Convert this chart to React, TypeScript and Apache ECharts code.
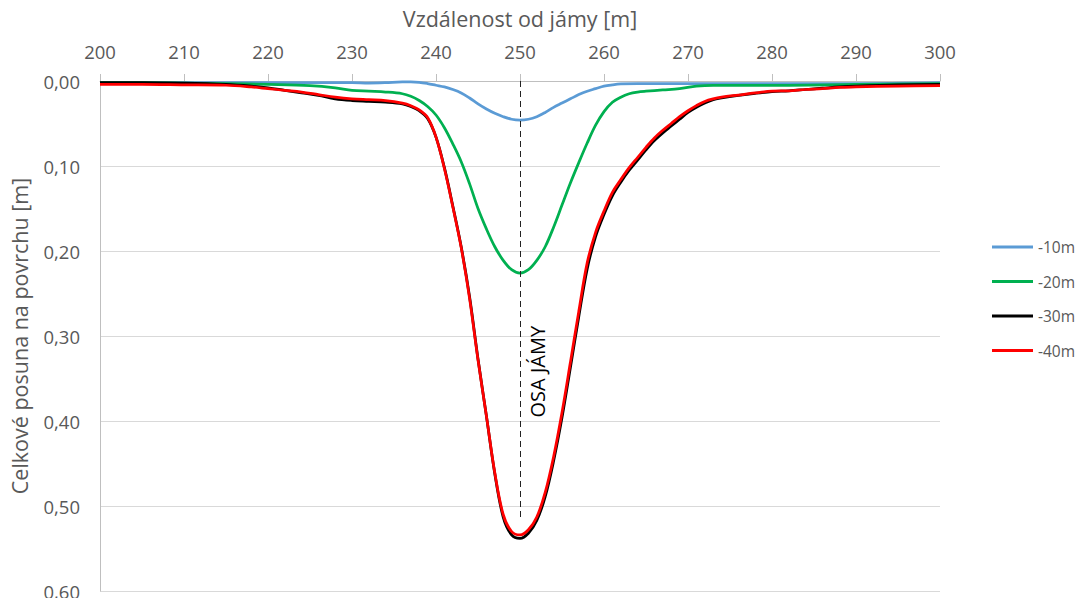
import React, { useEffect, useRef } from "react";
import * as echarts from "echarts";

const xTicks = { min: 200, max: 300, interval: 10 };
const yTicks = { min: 0, max: 0.6, interval: 0.1 };

const seriesNames = ["-10m", "-20m", "-30m", "-40m"];
const seriesColors = ["#5b9bd5", "#00b050", "#000000", "#ff0000"];

const x10 = [200, 210, 220, 225, 230, 232, 234, 236, 237, 238, 239, 240, 241, 242, 243, 244, 245, 246, 247, 248, 249, 250, 251, 252, 253, 254, 255, 256, 257, 258, 259, 260, 261, 262, 264, 266, 270, 275, 280, 290, 300];
const y10 = [0.002, 0.002, 0.002, 0.002, 0.002, 0.0025, 0.002, 0.001, 0.001, 0.0015, 0.003, 0.005, 0.007, 0.010, 0.014, 0.020, 0.027, 0.033, 0.038, 0.042, 0.045, 0.046, 0.045, 0.042, 0.037, 0.031, 0.026, 0.021, 0.016, 0.012, 0.009, 0.006, 0.0045, 0.0035, 0.003, 0.003, 0.003, 0.003, 0.003, 0.003, 0.002];

const x20 = [200, 205, 210, 215, 220, 225, 228, 230, 232, 234, 236, 237, 238, 239, 240, 241, 242, 243, 244, 245, 246, 247, 248, 249, 250, 251, 252, 253, 254, 255, 256, 257, 258, 259, 260, 261, 262, 263, 264, 265, 267, 269, 271, 273, 280, 290, 300];
const y20 = [0.002, 0.002, 0.0025, 0.003, 0.004, 0.0055, 0.008, 0.011, 0.012, 0.013, 0.015, 0.018, 0.023, 0.030, 0.040, 0.055, 0.074, 0.095, 0.121, 0.150, 0.174, 0.195, 0.211, 0.222, 0.226, 0.222, 0.211, 0.195, 0.172, 0.146, 0.120, 0.096, 0.073, 0.052, 0.036, 0.025, 0.019, 0.015, 0.013, 0.012, 0.0105, 0.009, 0.006, 0.005, 0.005, 0.004, 0.003];

const x30 = [200, 205, 210, 215, 218, 220, 222, 224, 226, 228, 230, 232, 234, 236, 237, 238, 239, 240, 241, 242, 243, 244, 245, 246, 247, 248, 249, 250, 251, 252, 253, 254, 255, 256, 257, 258, 259, 260, 261, 262, 263, 264, 265, 266, 267, 268, 269, 270, 271, 272, 273, 274, 276, 278, 280, 282, 284, 286, 288, 290, 295, 300];
const y30 = [0.002, 0.002, 0.0025, 0.004, 0.006, 0.008, 0.011, 0.014, 0.017, 0.021, 0.023, 0.024, 0.025, 0.027, 0.030, 0.035, 0.044, 0.066, 0.102, 0.147, 0.195, 0.254, 0.327, 0.394, 0.462, 0.513, 0.534, 0.538, 0.532, 0.517, 0.489, 0.447, 0.396, 0.337, 0.277, 0.221, 0.183, 0.157, 0.135, 0.119, 0.105, 0.093, 0.081, 0.070, 0.061, 0.053, 0.045, 0.037, 0.031, 0.026, 0.022, 0.020, 0.017, 0.0145, 0.0125, 0.0115, 0.010, 0.0085, 0.007, 0.006, 0.0045, 0.004];

const x40 = [200, 205, 210, 215, 218, 220, 222, 224, 226, 228, 230, 232, 234, 236, 237, 238, 239, 240, 241, 242, 243, 244, 245, 246, 247, 248, 249, 250, 251, 252, 253, 254, 255, 256, 257, 258, 259, 260, 261, 262, 263, 264, 265, 266, 267, 268, 269, 270, 271, 272, 273, 274, 276, 278, 280, 282, 284, 286, 288, 290, 295, 300];
const y40 = [0.004, 0.004, 0.0045, 0.005, 0.007, 0.009, 0.011, 0.013, 0.016, 0.019, 0.021, 0.022, 0.023, 0.026, 0.029, 0.034, 0.043, 0.066, 0.103, 0.148, 0.196, 0.256, 0.328, 0.394, 0.461, 0.510, 0.530, 0.534, 0.528, 0.513, 0.484, 0.442, 0.390, 0.331, 0.271, 0.214, 0.178, 0.153, 0.131, 0.116, 0.102, 0.090, 0.078, 0.067, 0.058, 0.050, 0.042, 0.035, 0.029, 0.024, 0.021, 0.019, 0.0165, 0.014, 0.012, 0.0115, 0.010, 0.009, 0.0075, 0.007, 0.006, 0.0055];

const axisMarkX = 250;
const axisMarkYEnd = 0.515;
const axisMarkLabelY = 0.342;
const axisMarkLabel = "OSA JÁMY";

const xTitle = "Vzdálenost od jámy [m]";
const yTitle = "Celkové posuna na povrchu [m]";

const FONT = "'Open Sans', 'Noto Sans', sans-serif";

function pairs(xs: number[], ys: number[]) {
  return xs.map((x, i) => [x, ys[i]]);
}

export default function App() {
  const ref = useRef<HTMLDivElement>(null);
  useEffect(() => {
    if (!ref.current) return;
    const chart = echarts.init(ref.current, undefined, { renderer: "svg" });
    const allX = [x10, x20, x30, x40];
    const allY = [y10, y20, y30, y40];
    const series: any[] = seriesNames.map((name, i) => ({
      name,
      type: "line",
      data: pairs(allX[i], allY[i]),
      smooth: 0.35,
      showSymbol: false,
      symbol: "none",
      lineStyle: { color: seriesColors[i], width: 2.75 },
      itemStyle: { color: seriesColors[i] },
      z: 2 + i,
    }));
    series.push({
      name: "osa",
      type: "line",
      data: [],
      silent: true,
      markLine: {
        silent: true,
        symbol: "none",
        label: { show: false },
        lineStyle: { color: "#222", type: [6, 4], width: 1 },
        data: [[{ coord: [axisMarkX, 0] }, { coord: [axisMarkX, axisMarkYEnd] }]],
      },
      markPoint: {
        silent: true,
        symbol: "circle",
        symbolSize: 0,
        data: [{ coord: [axisMarkX, axisMarkLabelY] }],
        label: {
          show: true,
          formatter: axisMarkLabel,
          rotate: 90,
          offset: [0, 17],
          color: "#000",
          fontSize: 20,
          fontFamily: FONT,
        },
      },
    });
    chart.setOption({
      animation: false,
      backgroundColor: "#fff",
      textStyle: { fontFamily: FONT },
      grid: { left: 100, right: 135, top: 81, bottom: 7, containLabel: false, outerBoundsMode: "none" },
      legend: {
        orient: "vertical",
        left: 987,
        top: 234,
        data: seriesNames,
        icon: "rect",
        itemWidth: 41,
        itemHeight: 3,
        itemGap: 18.5,
        textStyle: { color: "#595959", fontSize: 15.5, fontFamily: FONT },
      },
      xAxis: {
        type: "value",
        position: "top",
        min: xTicks.min,
        max: xTicks.max,
        interval: xTicks.interval,
        name: xTitle,
        nameLocation: "middle",
        nameGap: 52,
        nameTextStyle: { color: "#595959", fontSize: 21.5, fontFamily: FONT },
        axisLine: { show: true, lineStyle: { color: "#bfbfbf", width: 1 } },
        axisTick: { show: true, length: 7, lineStyle: { color: "#bfbfbf" } },
        axisLabel: { color: "#595959", fontSize: 18.5, margin: 20, fontFamily: FONT },
        splitLine: { show: false },
      },
      yAxis: {
        type: "value",
        inverse: true,
        min: yTicks.min,
        max: yTicks.max,
        interval: yTicks.interval,
        name: yTitle,
        nameLocation: "middle",
        nameGap: 70,
        nameTextStyle: { color: "#595959", fontSize: 21.5, fontFamily: FONT },
        axisLine: { show: true, lineStyle: { color: "#bfbfbf", width: 1 } },
        axisTick: { show: false },
        axisLabel: {
          color: "#595959",
          fontSize: 18.5,
          margin: 20,
          fontFamily: FONT,
          formatter: (v: number) => v.toFixed(2).replace(".", ","),
        },
        splitLine: { show: true, lineStyle: { color: "#d9d9d9", width: 1 } },
      },
      series,
    });
    return () => chart.dispose();
  }, []);
  return (
    <div
      ref={ref}
      style={{ position: "fixed", left: 0, top: 0, width: 1075, height: 598, background: "#fff" }}
    />
  );
}
